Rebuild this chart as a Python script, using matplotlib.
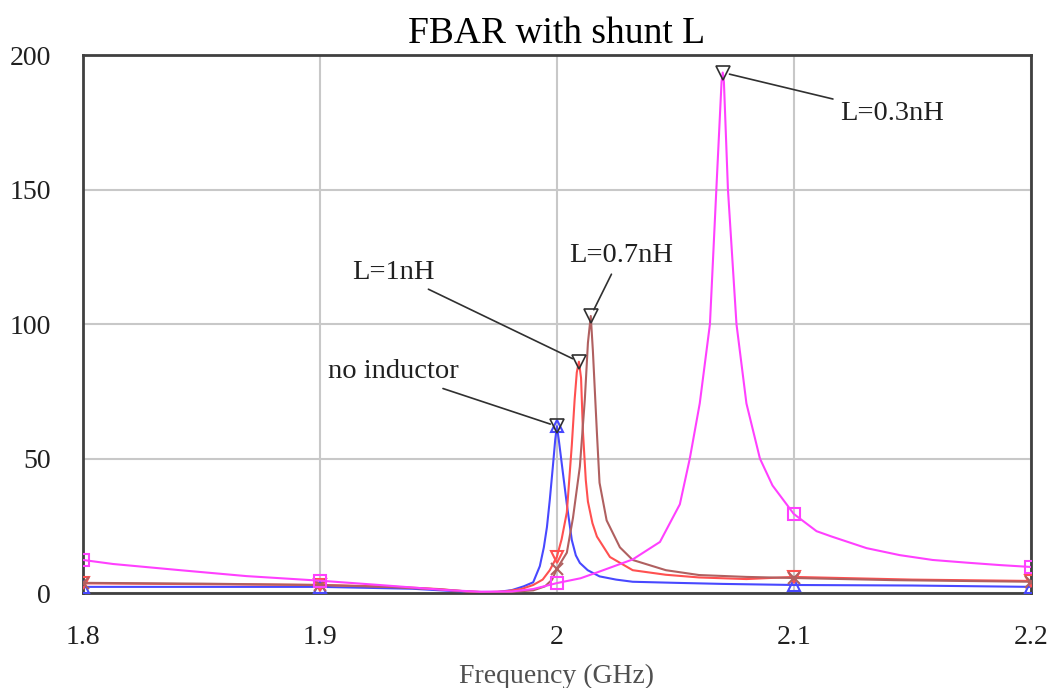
import numpy as np
import matplotlib
matplotlib.use('Agg')
import matplotlib.pyplot as plt

# frequency (GHz) / value pairs
f_none = [1.8, 1.85, 1.9, 1.939, 1.955, 1.965, 1.975, 1.981, 1.986, 1.99, 1.9928, 1.9945,
          1.9958, 1.997, 1.9983, 1.9993, 2.0, 2.0008, 2.0025, 2.0042, 2.0063, 2.008, 2.0097,
          2.013, 2.018, 2.025, 2.032, 2.05, 2.07, 2.1, 2.15, 2.2]
v_none = [2.3, 2.3, 2.3, 1.6, 0.8, 0.4, 0.4, 1.1, 2.5, 4.0, 10, 17,
          24.5, 34.6, 47, 57, 62, 57, 45, 33, 19.7, 14, 11.2,
          8.5, 6.2, 5.0, 4.2, 3.8, 3.4, 3.0, 2.8, 2.3]

f_1nh = [1.8, 1.85, 1.9, 1.93, 1.95, 1.962, 1.97, 1.978, 1.985, 1.99, 1.994, 1.997, 2.0,
         2.002, 2.0042, 2.0063, 2.0075, 2.0084, 2.0093, 2.0102, 2.011, 2.0122, 2.0131,
         2.015, 2.0169, 2.0224, 2.032, 2.046, 2.06, 2.08, 2.1, 2.15, 2.2]
v_1nh = [3.6, 3.3, 3.0, 2.4, 1.5, 0.6, 0.3, 0.6, 1.5, 3.0, 5.0, 8.5, 13.5,
         20, 30, 55, 72, 82, 86, 80, 60, 42, 34,
         26, 21, 13.4, 8.5, 6.8, 5.8, 5.2, 6.0, 5.0, 4.5]

f_07nh = [1.8, 1.85, 1.9, 1.93, 1.95, 1.962, 1.97, 1.98, 1.99, 1.995, 1.998, 2.0, 2.0042,
          2.0068, 2.0097, 2.0118, 2.0131, 2.0143, 2.0152, 2.0162, 2.0169, 2.018, 2.021,
          2.0266, 2.032, 2.046, 2.06, 2.08, 2.1, 2.142, 2.2]
v_07nh = [3.8, 3.5, 3.0, 2.2, 1.4, 0.6, 0.3, 0.4, 1.0, 2.5, 5.0, 9.0, 15,
          28, 47, 72, 93, 103, 90, 72, 59.5, 41, 27,
          17, 12.3, 8.5, 6.7, 6.0, 5.6, 4.8, 4.2]

f_03nh = [1.8, 1.8127, 1.841, 1.869, 1.9, 1.925, 1.9536, 1.9675, 1.981, 1.99, 2.0, 2.01,
          2.018, 2.032, 2.0435, 2.0519, 2.0561, 2.0603, 2.0646, 2.0673, 2.0695, 2.07,
          2.0705, 2.0722, 2.0758, 2.08, 2.0857, 2.091, 2.1, 2.1096, 2.116, 2.1307, 2.1447,
          2.1586, 2.173, 2.187, 2.2]
v_03nh = [12.3, 10.8, 8.5, 6.3, 4.6, 3.0, 1.1, 0.5, 0.6, 1.5, 3.7, 5.5,
          8.0, 12.5, 19, 33, 50, 70.5, 100, 150, 190, 193.5,
          190, 150, 100, 70.5, 50, 40, 29.4, 23, 21, 16.7, 14.1,
          12.3, 11.3, 10.4, 9.7]

marker_f = [1.8, 1.9, 2.0, 2.1, 2.2]

series = [
    (f_none, v_none, '#4848ff', '^', 'no inductor', (1.9308, 82.2)),
    (f_1nh, v_1nh, '#ff5050', 'v', 'L=1nH', (1.9308, 119.3)),
    (f_07nh, v_07nh, '#b06060', 'x', 'L=0.7nH', (2.027, 125.6)),
    (f_03nh, v_03nh, '#ff40ff', 's', 'L=0.3nH', (2.1194, 178.4)),
]

fig = plt.figure(figsize=(10.55, 6.88), dpi=100)
ax = fig.add_axes([0.0787, 0.138, 0.8983, 0.782])

for f, v, c, m, lab, txt in series:
    f = np.array(f)
    v = np.array(v)
    idx = [int(np.argmin(abs(f - mf))) for mf in marker_f]
    ax.plot(f, v, '-', color=c, lw=1.5, marker=m, markevery=idx, ms=9,
            mfc='none', mec=c, mew=1.5, zorder=3)
    k = int(np.argmax(v))
    ax.plot(f[k], v[k], 'v', ms=10, mfc='none', mec='#303030', mew=1.2, zorder=4)
    ha = 'left' if lab == 'L=0.3nH' else 'center'
    ax.annotate(lab, xy=(f[k], v[k]), xytext=txt, ha=ha, va='center',
                fontsize=20.5, family='Liberation Serif', color='#202020',
                arrowprops=dict(arrowstyle='-', color='#303030', lw=1.2,
                                shrinkA=3, shrinkB=5))

ax.set_xlim(1.8, 2.2)
ax.set_ylim(0, 200)
ax.set_xticks([1.8, 1.9, 2.0, 2.1, 2.2])
ax.set_xticklabels(['1.8', '1.9', '2', '2.1', '2.2'])
ax.set_yticks([0, 50, 100, 150, 200])
ax.grid(True, color='#c8c8c8', lw=1.5)
ax.set_axisbelow(True)
ax.tick_params(axis='y', length=0, pad=23, labelsize=20, labelcolor='#202020')
ax.tick_params(axis='x', length=0, pad=23, labelsize=20, labelcolor='#202020')
for t in ax.get_xticklabels() + ax.get_yticklabels():
    t.set_family('Liberation Serif')
for s in ax.spines.values():
    s.set_color('#404040')
    s.set_linewidth(2)

ax.set_title('FBAR with shunt L', fontsize=27, family='Liberation Serif', pad=9)
ax.set_xlabel('Frequency (GHz)', fontsize=20, family='Liberation Serif',
              color='#505050', labelpad=10)

fig.savefig('out.png', dpi=100)
